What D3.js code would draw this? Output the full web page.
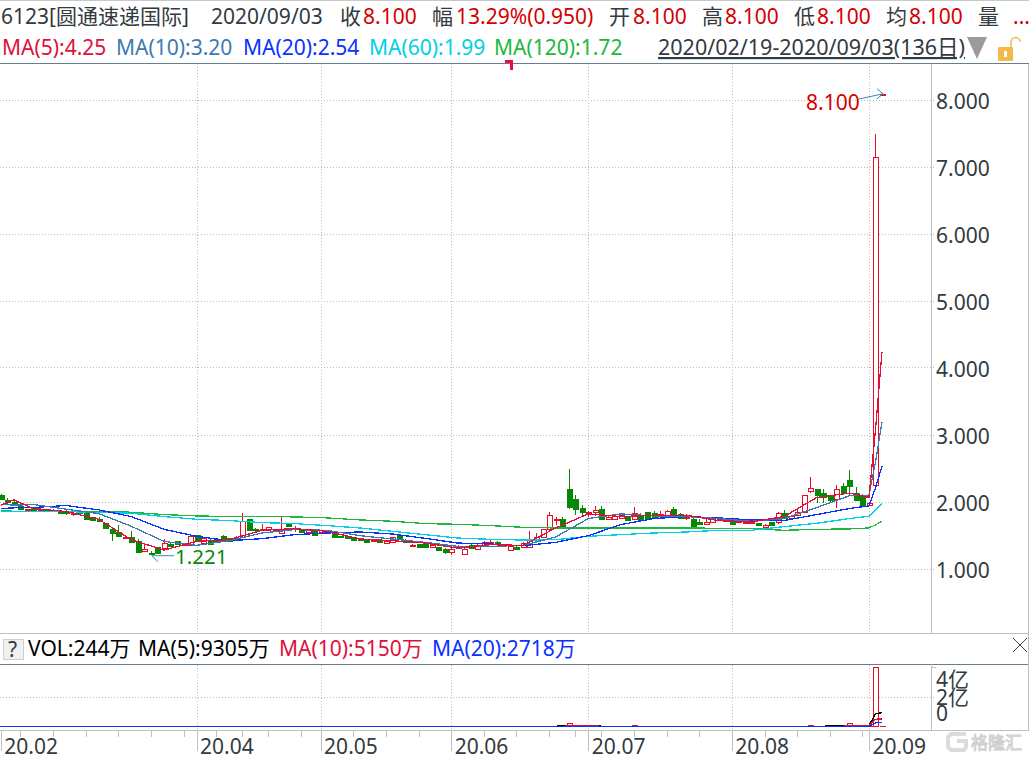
<!DOCTYPE html>
<html>
<head>
<meta charset="utf-8">
<script src="https://cdn.jsdelivr.net/npm/d3@7"></script>
<style>
    html, body { margin: 0; padding: 0; background: #fff; overflow: hidden; }
    text { font-family: "Noto Sans", "Noto Sans CJK SC", sans-serif; }
</style>
</head>
<body>
<svg id="chart" width="1029" height="760"></svg>
<script>
const opens = [2.11,2.03,2.005,1.95,1.89,1.93,1.90,1.90,1.885,1.87,
    1.865,1.83,1.855,1.84,1.78,1.76,1.69,1.60,1.555,1.47,
    1.49,1.43,1.27,1.25,1.335,1.315,1.385,1.43,1.37,1.37,
    1.51,1.395,1.445,1.455,1.505,1.47,1.46,1.485,1.76,1.61,
    1.585,1.61,1.59,1.545,1.675,1.60,1.585,1.57,1.58,1.56,
    1.57,1.57,1.495,1.495,1.485,1.465,1.455,1.44,1.445,1.40,
    1.415,1.515,1.445,1.355,1.375,1.375,1.33,1.335,1.31,1.27,
    1.32,1.24,1.37,1.31,1.365,1.375,1.41,1.355,1.30,1.335,
    1.33,1.33,1.46,1.48,1.605,1.735,1.76,2.2,2.05,1.915,
    1.83,1.865,1.90,1.76,1.76,1.77,1.785,1.76,1.82,1.855,
    1.84,1.77,1.81,1.90,1.825,1.775,1.76,1.71,1.68,1.71,
    1.73,1.715,1.76,1.71,1.70,1.70,1.695,1.645,1.705,1.71,
    1.85,1.76,1.815,1.85,2.175,2.2,2.14,2.09,2.04,2.24,
    2.335,2.145,2.115,1.96,2.25,8.1];
const closes = [2.05,2.005,1.97,1.90,1.90,1.89,1.91,1.87,1.89,1.845,
    1.855,1.845,1.85,1.75,1.73,1.73,1.62,1.535,1.495,1.48,
    1.415,1.27,1.30,1.24,1.25,1.395,1.355,1.385,1.375,1.505,
    1.415,1.47,1.385,1.415,1.46,1.43,1.44,1.73,1.595,1.60,
    1.605,1.635,1.605,1.60,1.64,1.62,1.555,1.595,1.525,1.585,
    1.555,1.48,1.48,1.46,1.445,1.43,1.415,1.445,1.415,1.425,
    1.485,1.455,1.415,1.37,1.325,1.325,1.365,1.295,1.265,1.31,
    1.345,1.31,1.32,1.37,1.415,1.405,1.38,1.38,1.355,1.305,
    1.395,1.455,1.49,1.605,1.81,1.755,1.62,1.925,1.90,1.85,
    1.855,1.89,1.75,1.79,1.80,1.81,1.74,1.85,1.75,1.77,
    1.76,1.835,1.88,1.825,1.765,1.79,1.66,1.68,1.715,1.765,
    1.75,1.735,1.685,1.75,1.715,1.71,1.66,1.67,1.66,1.85,
    1.775,1.795,1.865,2.105,2.215,2.11,2.075,2.03,2.195,2.14,
    2.245,2.035,1.96,1.995,7.15,8.1];
const highs = [2.12,2.06,2.02,1.955,1.91,1.935,1.915,1.905,1.905,1.875,
    1.89,1.865,1.86,1.845,1.785,1.79,1.695,1.605,1.66,1.485,
    1.575,1.455,1.39,1.275,1.34,1.455,1.405,1.43,1.38,1.505,
    1.51,1.48,1.45,1.47,1.52,1.475,1.495,1.84,1.76,1.615,
    1.685,1.64,1.61,1.785,1.68,1.645,1.59,1.605,1.585,1.59,
    1.575,1.575,1.50,1.50,1.49,1.47,1.46,1.45,1.45,1.43,
    1.49,1.52,1.45,1.385,1.38,1.385,1.37,1.34,1.315,1.345,
    1.37,1.315,1.375,1.375,1.42,1.435,1.425,1.385,1.36,1.355,
    1.41,1.58,1.545,1.61,1.855,1.79,1.78,2.505,2.11,1.97,
    1.875,1.95,1.95,1.81,1.81,1.85,1.79,1.94,1.84,1.86,
    1.87,1.875,1.885,1.94,1.85,1.825,1.765,1.75,1.75,1.77,
    1.755,1.74,1.765,1.76,1.72,1.715,1.70,1.675,1.71,1.855,
    1.885,1.805,1.90,2.11,2.38,2.205,2.2,2.095,2.26,2.29,
    2.48,2.225,2.12,2.0,7.5,8.1];
const lows = [2.05,1.98,1.95,1.90,1.88,1.885,1.895,1.87,1.87,1.845,
    1.82,1.80,1.845,1.75,1.73,1.72,1.60,1.43,1.495,1.465,
    1.415,1.25,1.27,1.221,1.25,1.315,1.345,1.385,1.365,1.36,
    1.41,1.39,1.385,1.395,1.43,1.43,1.42,1.485,1.595,1.60,
    1.585,1.605,1.585,1.545,1.64,1.565,1.555,1.535,1.525,1.555,
    1.55,1.48,1.48,1.46,1.43,1.43,1.415,1.435,1.41,1.385,
    1.41,1.455,1.415,1.335,1.325,1.325,1.315,1.295,1.23,1.21,
    1.315,1.24,1.315,1.305,1.36,1.36,1.375,1.35,1.30,1.30,
    1.325,1.33,1.42,1.475,1.60,1.67,1.605,1.91,1.82,1.80,
    1.79,1.80,1.75,1.755,1.74,1.765,1.735,1.74,1.73,1.765,
    1.755,1.75,1.805,1.82,1.76,1.735,1.66,1.675,1.675,1.705,
    1.725,1.71,1.68,1.70,1.675,1.695,1.645,1.64,1.655,1.68,
    1.76,1.75,1.80,1.845,2.14,2.0,2.0,2.0,1.915,2.125,
    2.09,2.035,1.94,1.96,2.25,8.1];

// unit: 亿
const volumes = [0.01,0.01,0.01,0.01,0.01,0.01,0.01,0.01,0.01,0.01,
    0.01,0.01,0.01,0.01,0.01,0.01,0.01,0.02,0.01,0.01,
    0.01,0.02,0.01,0.01,0.01,0.02,0.01,0.01,0.01,0.02,
    0.01,0.01,0.01,0.01,0.01,0.01,0.01,0.03,0.02,0.01,
    0.01,0.01,0.01,0.02,0.01,0.01,0.01,0.01,0.01,0.01,
    0.01,0.01,0.01,0.01,0.01,0.01,0.01,0.01,0.01,0.01,
    0.01,0.01,0.01,0.01,0.01,0.01,0.01,0.01,0.01,0.01,
    0.01,0.01,0.01,0.01,0.01,0.01,0.01,0.01,0.01,0.01,
    0.01,0.03,0.01,0.02,0.03,0.01,0.01,0.22,0.05,0.02,
    0.01,0.02,0.03,0.01,0.01,0.01,0.01,0.07,0.02,0.01,
    0.01,0.01,0.01,0.01,0.01,0.01,0.02,0.01,0.01,0.01,
    0.01,0.01,0.01,0.01,0.01,0.01,0.01,0.01,0.01,0.02,
    0.01,0.01,0.01,0.03,0.06,0.02,0.01,0.01,0.06,0.02,
    0.2,0.03,0.03,0.02,4.0,0.024];
const volIdx = [0,85,87,88,91,92,125,129,130,131,133,134,135];
const volMa5 = [0.01,0.02,0.05,0.05,0.05,0.02,0.02,0.03,0.06,0.06,0.05,0.87,0.93];
const volMa10 = [0.01,0.01,0.03,0.03,0.03,0.02,0.02,0.02,0.04,0.05,0.05,0.49,0.515];
const volMa20 = [0.01,0.01,0.01,0.02,0.02,0.01,0.01,0.01,0.02,0.02,0.02,0.25,0.2718];

const maIdx = [0,2,5,10,15,20,25,30,35,40,45,50,55,60,65,70,75,80,85,90,95,100,105,110,115,120,125,130,133,134,135];
const ma5 = [1.96,2.04,1.91,1.865,1.75,1.445,1.29,1.42,1.445,1.585,1.61,1.57,1.455,1.43,1.395,1.32,1.37,1.36,1.62,1.83,1.79,1.81,1.81,1.73,1.71,1.79,2.075,2.14,2.075,3.08,4.25];
const ma10 = [1.975,1.96,1.97,1.90,1.835,1.645,1.42,1.36,1.43,1.545,1.595,1.585,1.505,1.455,1.405,1.345,1.345,1.36,1.485,1.76,1.83,1.80,1.79,1.76,1.72,1.76,1.925,2.10,2.11,2.6,3.20];
const ma20 = [1.91,1.92,1.925,1.955,1.89,1.79,1.6,1.495,1.43,1.46,1.52,1.545,1.56,1.53,1.465,1.395,1.38,1.355,1.405,1.505,1.67,1.76,1.79,1.77,1.74,1.73,1.82,1.91,1.95,2.22,2.54];
const ma60 = [1.865,1.865,1.865,1.865,1.85,1.84,1.79,1.75,1.73,1.70,1.685,1.655,1.62,1.57,1.52,1.47,1.45,1.44,1.445,1.495,1.52,1.545,1.56,1.585,1.585,1.64,1.69,1.76,1.795,1.885,1.99];
const ma120 = [1.875,1.87,1.87,1.865,1.87,1.855,1.82,1.80,1.79,1.79,1.785,1.77,1.74,1.72,1.685,1.675,1.655,1.63,1.62,1.62,1.62,1.62,1.62,1.615,1.61,1.585,1.60,1.605,1.62,1.667,1.72];

const monthIdx = [0,30,49,69,90,112,133];
const monthLabels = ["20.02","20.04","20.05","20.06","20.07","20.08","20.09"];
const minorIdx = [3,8,13,18,23,28,33,37,41,46,54,59,64,74,79,84,88,92,97,102,107,117,122,127,132];
const priceTicks = [1,2,3,4,5,6,7,8];
const volTicks = [0,2,4];

const RED = "#ee0c24", GREEN = "#068806", DARK = "#333a40", PRICE = "#d40000";
const MA_RED = "#e0103c", MA_STEEL = "#3c7ab0", MA_BLUE = "#0a32ff", MA_CYAN = "#00d0e8", MA_GREEN = "#20b83c";

const svg = d3.select("#chart");

const x = d3.scaleLinear().domain([0, 135]).range([0.75, 882]);
const y = d3.scaleLinear().domain([1, 8]).range([569.5, 100.5]);
const yVol = d3.scaleLinear().domain([0, 4]).range([726.5, 667.5]);
const snap = v => Math.round(v) + 0.5;

// frame lines
const hline = (yy, x1, x2, color) => svg.append("line").attr("x1", x1).attr("x2", x2).attr("y1", yy).attr("y2", yy)
    .attr("stroke", color).attr("shape-rendering", "crispEdges");
const vline = (xx, y1, y2, color) => svg.append("line").attr("x1", xx).attr("x2", xx).attr("y1", y1).attr("y2", y2)
    .attr("stroke", color).attr("shape-rendering", "crispEdges");

hline(0.5, 0, 1029, "#c8c8c8");
hline(63.5, 0, 1029, "#64808f");
hline(633.5, 0, 1029, "#c0c0c0");
hline(664.5, 0, 1029, "#64808f");
hline(730.5, 0, 931, "#c0c0c0");
hline(730.5, 931, 1029, "#c0c0c0");
vline(1028.5, 64, 730, "#c0c0c0");
vline(931.5, 64, 633, "#c0c0c0");
vline(931.5, 664, 730, "#c0c0c0");

// gridlines
const grid = svg.append("g").attr("stroke", "#bdbdbd").attr("stroke-dasharray", "1,2").attr("shape-rendering", "crispEdges");
priceTicks.forEach(t => {
    grid.append("line").attr("x1", 0).attr("x2", 936).attr("y1", snap(y(t)) - 1).attr("y2", snap(y(t)) - 1);
});
grid.append("line").attr("x1", 0).attr("x2", 936).attr("y1", 697.5).attr("y2", 697.5);
monthIdx.slice(1).forEach(i => {
    grid.append("line").attr("x1", snap(x(i))).attr("x2", snap(x(i))).attr("y1", 64).attr("y2", 633);
    grid.append("line").attr("x1", snap(x(i))).attr("x2", snap(x(i))).attr("y1", 665).attr("y2", 730);
});

// price axis
const yAxis = svg.append("g").attr("transform", "translate(936,0.5)")
    .call(d3.axisRight(y).tickValues(priceTicks).tickFormat(d3.format(".3f")).tickSize(0).tickPadding(0));
yAxis.select(".domain").remove();
yAxis.selectAll("text").attr("font-size", 21).attr("fill", DARK).attr("dy", "0.35em")
    .style("font-family", '"Noto Sans", sans-serif');

// volume axis
const volLabelY = { 4: 687, 2: 705, 0: 721 };
volTicks.forEach(t => {
    svg.append("text").attr("x", 936).attr("y", volLabelY[t]).attr("font-size", 21).attr("fill", DARK)
        .text(t === 0 ? "0" : t + "亿");
});
hline(667.5, 932, 936, "#c0c0c0");

// time axis
const xAxis = svg.append("g").attr("transform", "translate(0,730)")
    .call(d3.axisBottom(x).tickValues(monthIdx).tickFormat((d, i) => monthLabels[i]).tickSize(21).tickPadding(0));
xAxis.select(".domain").remove();
xAxis.selectAll("line").attr("stroke", "#c0c0c0").attr("shape-rendering", "crispEdges");
xAxis.selectAll("text").attr("font-size", 21).attr("fill", DARK).attr("text-anchor", "start")
    .attr("dx", 3).attr("y", 24).attr("dy", 0);
svg.append("g").selectAll("line").data(minorIdx).join("line")
    .attr("x1", d => snap(x(d))).attr("x2", d => snap(x(d))).attr("y1", 731).attr("y2", 737)
    .attr("stroke", "#c0c0c0").attr("shape-rendering", "crispEdges");

// candles
const idx = d3.range(opens.length);
const isUp = i => closes[i] >= opens[i];
const candles = svg.append("g").attr("shape-rendering", "crispEdges");
candles.selectAll("line").data(idx).join("line")
    .attr("x1", i => snap(x(i))).attr("x2", i => snap(x(i)))
    .attr("y1", i => y(highs[i])).attr("y2", i => y(lows[i]))
    .attr("stroke", i => isUp(i) ? RED : GREEN);
candles.selectAll("rect").data(idx).join("rect")
    .attr("x", i => snap(x(i)) - 2.5).attr("width", 5)
    .attr("y", i => snap(y(Math.max(opens[i], closes[i]))))
    .attr("height", i => Math.max(1, Math.round(Math.abs(y(opens[i]) - y(closes[i])))))
    .attr("fill", i => isUp(i) ? "#fff" : GREEN)
    .attr("stroke", i => isUp(i) ? RED : GREEN);

// price moving averages
const maLine = (values, color, yScale, xs) => svg.append("path")
    .attr("d", d3.line().x((d, i) => x(xs[i])).y(d => yScale(d))(values))
    .attr("fill", "none").attr("stroke", color).attr("stroke-width", 1.3)
    .attr("shape-rendering", "crispEdges");

maLine(ma120, MA_GREEN, y, maIdx);
maLine(ma60, MA_CYAN, y, maIdx);
maLine(ma20, MA_BLUE, y, maIdx);
maLine(ma10, MA_STEEL, y, maIdx);
maLine(ma5, MA_RED, y, maIdx);

// volume bars, coloured by close against the previous close
const isVolRed = i => i === 0 || closes[i] >= closes[i - 1];
svg.append("g").attr("shape-rendering", "crispEdges").selectAll("rect").data(idx).join("rect")
    .attr("x", i => snap(x(i)) - 2.5).attr("width", 5)
    .attr("y", i => yVol(volumes[i]))
    .attr("height", i => yVol(0) - yVol(volumes[i]))
    .attr("fill", i => isVolRed(i) ? "#fff" : GREEN)
    .attr("stroke", i => isVolRed(i) ? RED : GREEN);

maLine(volMa5, "#000", yVol, volIdx);
maLine(volMa10, MA_RED, yVol, volIdx);
maLine(volMa20, MA_BLUE, yVol, volIdx);

// high / low marks
const TEAL = "#2a8fa8";
const hiX = x(135) + 1, hiY = y(8.1);
svg.append("path").attr("fill", "none").attr("stroke", TEAL)
    .attr("d", `M859,99L${hiX},${hiY}M${hiX - 6},${hiY - 5}L${hiX},${hiY}L${hiX - 6},${hiY + 5}`);
svg.append("text").attr("x", 806).attr("y", 110).attr("font-size", 21).attr("fill", PRICE).text("8.100");
const loX = x(23) + 1, loY = y(1.221);
svg.append("path").attr("fill", "none").attr("stroke", TEAL)
    .attr("d", `M174,${loY + 1}L${loX},${loY + 1}L${loX + 6},${loY + 7}`);
svg.append("text").attr("x", 175).attr("y", 564).attr("font-size", 20.5).attr("fill", GREEN).text("1.221");

// stray high mark under the header
svg.append("path").attr("fill", "none").attr("stroke", "#ee0c3c").attr("stroke-width", 2.5)
    .attr("d", "M505,61.5H511.5V70").attr("shape-rendering", "crispEdges");

// header rows
const label = (t, xx, yy, color, size) => svg.append("text").attr("x", xx).attr("y", yy)
    .attr("font-size", size || 21).attr("fill", color).text(t);

label("6123[圆通速递国际]", 1, 24, DARK);
label("2020/09/03", 211, 24, DARK);
label("收", 340, 24, DARK);
label("8.100", 363, 24, PRICE);
label("幅", 432, 24, DARK);
label("13.29%(0.950)", 456, 24, PRICE);
label("开", 609, 24, DARK);
label("8.100", 633, 24, PRICE);
label("高", 702, 24, DARK);
label("8.100", 725, 24, PRICE);
label("低", 794, 24, DARK);
label("8.100", 817, 24, PRICE);
label("均", 886, 24, DARK);
label("8.100", 909, 24, PRICE);
label("量", 978, 24, DARK);
label("...", 1013, 24, PRICE);

label("MA(5):4.25", 2, 55, MA_RED);
label("MA(10):3.20", 116, 55, MA_STEEL);
label("MA(20):2.54", 243, 55, MA_BLUE);
label("MA(60):1.99", 369, 55, MA_CYAN);
label("MA(120):1.72", 494, 55, MA_GREEN);
label("2020/02/19-2020/09/03(136日)", 658, 55, DARK, 21.5).attr("text-decoration", "underline");
svg.append("path").attr("d", "M967,37H987L977,59Z").attr("fill", "#9a9a9a");
svg.append("rect").attr("x", 998).attr("y", 47).attr("width", 15).attr("height", 14).attr("rx", 1).attr("fill", "#f5b84c");
svg.append("rect").attr("x", 1004).attr("y", 51).attr("width", 3).attr("height", 6).attr("fill", "#fff");
svg.append("path").attr("d", "M1011,47V42A4.5,4.5 0 0 1 1020,42").attr("fill", "none").attr("stroke", "#f5b84c").attr("stroke-width", 1.5);

// volume title row
svg.append("rect").attr("x", 3.5).attr("y", 639.5).attr("width", 20).attr("height", 20)
    .attr("fill", "#f0f0f0").attr("stroke", "#cfcfcf");
label("?", 8, 657, DARK, 21);
label("VOL:244万", 28, 656, "#000");
label("MA(5):9305万", 138, 656, "#000");
label("MA(10):5150万", 279, 656, MA_RED);
label("MA(20):2718万", 432, 656, MA_BLUE);
svg.append("path").attr("d", "M1013,638L1027,652M1027,638L1013,652").attr("stroke", "#444").attr("fill", "none");

// watermark
const wm = svg.append("g").attr("fill", "none").attr("stroke", "#dcdcdc").attr("stroke-width", 4);
wm.append("path").attr("d", "M966,734H951L948,737V747L951,750H964L966,747V741H957");
svg.append("text").attr("x", 971).attr("y", 749).attr("font-size", 17).attr("fill", "#fff")
    .attr("stroke", "#cfcfcf").attr("stroke-width", 1).text("格隆汇");
</script>
</body>
</html>
